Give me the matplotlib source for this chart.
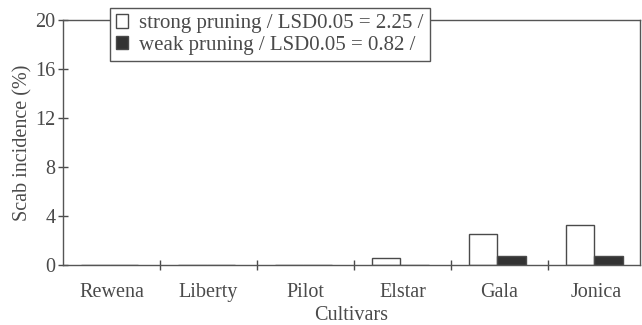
import matplotlib
matplotlib.use("Agg")
import matplotlib.pyplot as plt
import numpy as np

cultivars = ["Rewena", "Liberty", "Pilot", "Elstar", "Gala", "Jonica"]
strong_pruning = [0.0, 0.0, 0.0, 0.6, 2.5, 3.3]
weak_pruning = [0.0, 0.0, 0.0, 0.0, 0.7, 0.7]
legend_labels = ["strong pruning / LSD0.05 = 2.25 /",
                 "weak pruning / LSD0.05 = 0.82 /"]
y_ticks = [0, 4, 8, 12, 16, 20]

ink = "#4a4a4a"
plt.rcParams["font.family"] = ["Liberation Serif", "DejaVu Serif"]

fig = plt.figure(figsize=(6.42, 3.25), dpi=100)
ax = fig.add_axes([63 / 642, 60 / 325, 577 / 642, 245 / 325])

x = np.arange(len(cultivars))
w = 0.29
ax.bar(x - w / 2 - 0.02, strong_pruning, w, facecolor="white",
       edgecolor=ink, linewidth=1.0, label=legend_labels[0])
ax.bar(x + w / 2 - 0.02, weak_pruning, w, facecolor="#333333",
       edgecolor=ink, linewidth=1.0, label=legend_labels[1])

ax.set_xlim(-0.5, 5.45)
ax.set_ylim(0, 20)
ax.set_yticks(y_ticks)
# cultivar names sit between the separator ticks
ax.set_xticks([0.5, 1.5, 2.5, 3.5, 4.5])
ax.set_xticklabels([])
ax.set_xticks(x, minor=True)
ax.set_xticklabels(cultivars, minor=True)
ax.tick_params(axis="x", which="minor", length=0, pad=13,
               labelsize=14.5, labelcolor=ink)
ax.tick_params(axis="x", which="major", direction="inout", length=7,
               color=ink, width=1)
ax.tick_params(axis="y", direction="inout", length=7, color=ink, width=1,
               pad=2, labelsize=14.5, labelcolor=ink)

for s in ax.spines.values():
    s.set_color("#555555")
    s.set_linewidth(1.0)

ax.set_ylabel("Scab incidence (%)", fontsize=14.5, color=ink, labelpad=2)
ax.set_xlabel("Cultivars", fontsize=14.5, color=ink, labelpad=3)

leg = ax.legend(loc="upper left", bbox_to_anchor=(0.081, 1.049),
                borderaxespad=0, fontsize=15, frameon=True, fancybox=False,
                handlelength=0.6, handleheight=0.6, handletextpad=0.5,
                labelspacing=0.12, borderpad=0.3)
leg.get_frame().set_edgecolor("#555555")
leg.get_frame().set_linewidth(1.0)
leg.get_frame().set_alpha(1)
for t in leg.get_texts():
    t.set_color(ink)

fig.savefig("out.png", dpi=100)
